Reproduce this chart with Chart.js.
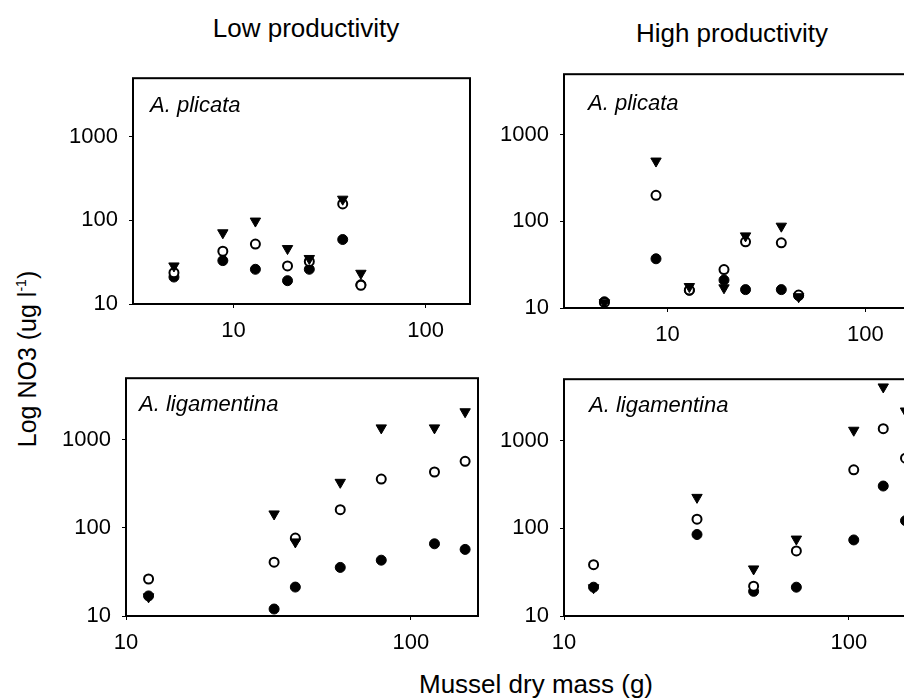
<!DOCTYPE html>
<html>
<head>
<meta charset="utf-8">
<script src="https://cdn.jsdelivr.net/npm/chart.js@4.4.1/dist/chart.umd.min.js"></script>
<style>
  html, body { margin: 0; padding: 0; background: #fff; }
  #wrap { position: relative; width: 904px; height: 698px; overflow: hidden; background: #fff;
          font-family: 'Liberation Sans', Arial, sans-serif; color: #000; }
  canvas { position: absolute; }
  .lbl { position: absolute; white-space: nowrap; line-height: 1; }
  .col { font-size: 26px; transform: translateX(-50%); }
  .sp { font-size: 22px; font-style: italic; }
  sup { font-size: 14px; vertical-align: super; line-height: 0; }
</style>
</head>
<body>
<div id="wrap">
  <div class="lbl col" style="left:306px; top:15px;">Low productivity</div>
  <div class="lbl col" style="left:732px; top:20px;">High productivity</div>
  <div class="lbl" style="left:27px; top:359px; font-size:25px; transform:translate(-50%,-50%) rotate(-90deg);">Log NO3 (ug l<sup>-1</sup>)</div>
  <div class="lbl col" style="left:536px; top:671px;">Mussel dry mass (g)</div>

  <canvas id="c1" width="422" height="310" style="left:63px; top:54px;"></canvas>
  <canvas id="c2" width="432" height="318" style="left:494px; top:50px;"></canvas>
  <canvas id="c3" width="437" height="322" style="left:56px; top:354px;"></canvas>
  <canvas id="c4" width="437" height="321" style="left:494px; top:355px;"></canvas>

  <div class="lbl sp" style="left:150px; top:94px;">A. plicata</div>
  <div class="lbl sp" style="left:588px; top:92px;">A. plicata</div>
  <div class="lbl sp" style="left:139px; top:393px;">A. ligamentina</div>
  <div class="lbl sp" style="left:589px; top:394px;">A. ligamentina</div>
</div>
<script>
// ---- Data ----
// Low productivity, A. plicata
const lowPlicataMass   = [4.9, 8.8, 13, 19.1, 24.8, 37, 46];
const lowPlicataFilled = [21, 33, 26, 19, 26, 59, 17];
const lowPlicataOpen   = [23.7, 42.7, 52, 28.5, 32.3, 157, 16.7];
const lowPlicataTri    = [28.5, 71, 98, 46, 35, 179, 23.3];

// High productivity, A. plicata
const highPlicataMass   = [4.8, 8.75, 12.9, 19.3, 24.8, 37.6, 46];
const highPlicataFilled = [11.8, 37, 16, 21, 16.3, 16.3, 13.9];
const highPlicataOpen   = [11.6, 200, 16.1, 27.8, 58, 56.5, 14.1];
const highPlicataTri    = [11.5, 497, 17.7, 17.1, 68, 88, 13.5];

// Low productivity, A. ligamentina
const lowLigMass   = [12, 33.1, 39.3, 56.5, 78.7, 121, 155];
const lowLigFilled = [16.9, 12, 21.3, 35.6, 43, 66, 57];
const lowLigOpen   = [26.3, 40.8, 76.7, 161, 358, 431, 569];
const lowLigTri    = [16.5, 144, 69.3, 329, 1365, 1365, 2080];

// High productivity, A. ligamentina
const highLigMass   = [12.7, 29.3, 46.3, 65.4, 104, 132, 158];
const highLigFilled = [21.3, 84.9, 19.1, 21.3, 73.6, 303, 122];
const highLigOpen   = [38.5, 127, 21.9, 55.2, 464, 1365, 629];
const highLigTri    = [21, 225, 34.4, 75.3, 1310, 4080, 2170];

const xTicks = [10, 100];
const yTicks = [10, 100, 1000];
const seriesNames = ['Series 1', 'Series 2', 'Series 3'];

// ---- Styling / layout ----
const FONT = { family: "'Liberation Sans', Arial, sans-serif", size: 22 };
const Y_W = 70, X_H = 60;

const framePlugin = {
  id: 'frame',
  beforeDatasetsDraw(chart) {
    const { ctx, chartArea: a } = chart;
    ctx.save();
    ctx.strokeStyle = '#000';
    ctx.lineWidth = 2;
    ctx.strokeRect(a.left, a.top, a.right - a.left, a.bottom - a.top);
    ctx.restore();
  }
};

function pts(xs, ys) { return xs.map((x, i) => ({ x: x, y: ys[i] })); }

function makeChart(id, mass, filled, open, tri, xMin, xMax) {
  new Chart(document.getElementById(id), {
    type: 'scatter',
    data: {
      datasets: [
        { label: seriesNames[2], data: pts(mass, tri), order: 1,
          pointStyle: 'triangle', rotation: 180, pointRadius: 6, borderWidth: 1,
          backgroundColor: '#000', borderColor: '#000', clip: false },
        { label: seriesNames[1], data: pts(mass, open), order: 2,
          pointStyle: 'circle', pointRadius: 4.5, borderWidth: 2,
          backgroundColor: '#fff', borderColor: '#000', clip: false },
        { label: seriesNames[0], data: pts(mass, filled), order: 3,
          pointStyle: 'circle', pointRadius: 5, borderWidth: 1,
          backgroundColor: '#000', borderColor: '#000', clip: false }
      ]
    },
    options: {
      responsive: false,
      animation: false,
      devicePixelRatio: 1,
      events: [],
      layout: { autoPadding: false, padding: { left: 0, top: 15, right: 15, bottom: 0 } },
      plugins: { legend: { display: false }, tooltip: { enabled: false }, title: { display: false } },
      scales: {
        x: {
          type: 'logarithmic', position: 'bottom', min: xMin, max: xMax,
          afterBuildTicks: ax => { ax.ticks = xTicks.map(v => ({ value: v })); },
          afterFit: ax => { ax.height = X_H; },
          ticks: { callback: v => String(v), font: FONT, color: '#000', padding: 10,
                   maxRotation: 0, minRotation: 0, autoSkip: false },
          grid: { display: true, drawOnChartArea: false, drawTicks: true, tickLength: 4,
                  color: '#000', lineWidth: 1 },
          border: { display: false }
        },
        y: {
          type: 'logarithmic', position: 'left', min: 10, max: 5000,
          afterBuildTicks: ax => { ax.ticks = yTicks.map(v => ({ value: v })); },
          afterFit: ax => { ax.width = Y_W; },
          ticks: { callback: v => String(v), font: FONT, color: '#000', padding: 11, autoSkip: false },
          grid: { display: true, drawOnChartArea: false, drawTicks: true, tickLength: 4,
                  color: '#000', lineWidth: 1 },
          border: { display: false }
        }
      }
    },
    plugins: [framePlugin]
  });
}

makeChart('c1', lowPlicataMass, lowPlicataFilled, lowPlicataOpen, lowPlicataTri, 3, 170);
makeChart('c2', highPlicataMass, highPlicataFilled, highPlicataOpen, highPlicataTri, 3, 170);
makeChart('c3', lowLigMass, lowLigFilled, lowLigOpen, lowLigTri, 10, 172);
makeChart('c4', highLigMass, highLigFilled, highLigOpen, highLigTri, 10, 172);
</script>
</body>
</html>
